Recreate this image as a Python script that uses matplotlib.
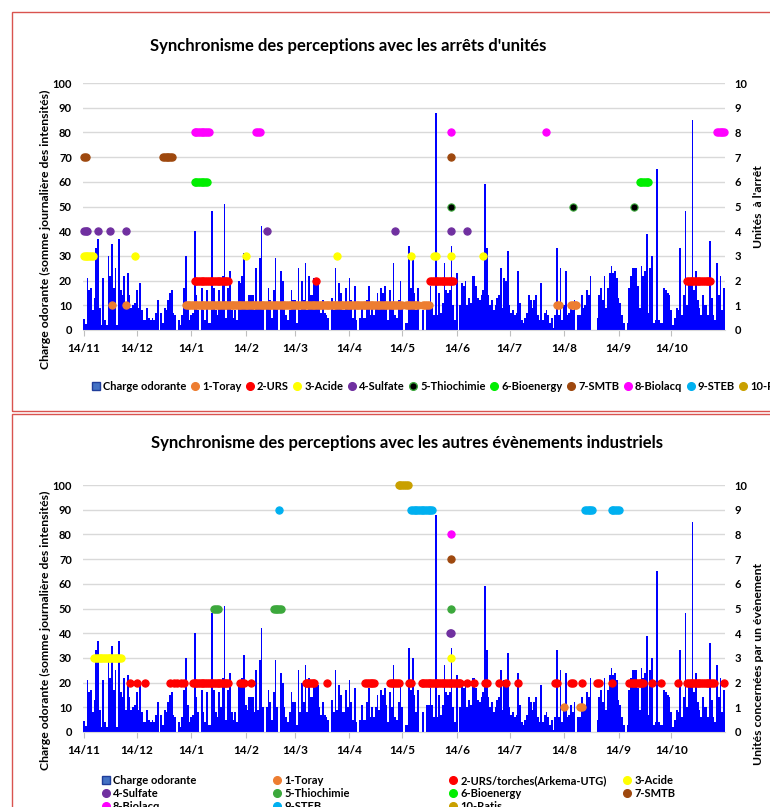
import numpy as np
import pandas as pd
import matplotlib
matplotlib.use('Agg')
import matplotlib.pyplot as plt
import matplotlib.dates as mdates
from matplotlib.lines import Line2D
from matplotlib.patches import Rectangle
from matplotlib.ticker import FuncFormatter, MultipleLocator

plt.rcParams['font.family'] = ['Lato', 'DejaVu Sans']
plt.rcParams['font.weight'] = 'bold'

# daily odour load, from 14/11 onwards
start = pd.Timestamp('2013-11-14')
charge = [
    4.5, 2.5, 21, 16, 17, 8, 13, 33, 37, 9,
    2, 21, 4, 2, 30, 22, 35, 17, 25, 2,
    37, 16, 14, 22, 9, 23, 14, 9, 10, 11,
    16, 9, 19, 8, 4, 4, 9, 5, 4, 5,
    4, 7, 12, 0, 7, 3, 9, 8, 12, 15,
    16, 7, 6, 0, 4, 2, 6, 17, 30, 11,
    4, 6, 7, 40, 14, 8, 0, 17, 8, 4,
    16, 3, 3, 48, 17, 8, 6, 16, 10, 22,
    51, 5, 17, 24, 8, 5, 8, 4, 20, 19,
    22, 31, 11, 9, 14, 14, 14, 8, 25, 9,
    29, 42, 10, 0, 10, 17, 12, 5, 16, 29,
    10, 0, 24, 20, 10, 6, 4, 8, 16, 12,
    12, 3, 25, 8, 20, 12, 27, 8, 22, 14,
    14, 21, 20, 19, 10, 7, 12, 7, 6, 5,
    0, 13, 8, 25, 9, 19, 15, 8, 8, 17,
    10, 21, 12, 5, 18, 4, 0, 5, 11, 5,
    5, 12, 18, 6, 10, 6, 10, 15, 9, 17,
    15, 18, 11, 4, 16, 10, 27, 6, 5, 12,
    20, 10, 0, 3, 3, 34, 17, 30, 15, 8,
    17, 0, 0, 8, 0, 11, 11, 18, 11, 6,
    88, 6, 15, 7, 11, 27, 16, 15, 16, 34,
    10, 4, 23, 0, 10, 19, 18, 20, 10, 13,
    11, 22, 22, 18, 13, 12, 14, 16, 59, 33,
    14, 10, 12, 8, 10, 13, 14, 25, 9, 21,
    20, 32, 10, 7, 8, 6, 7, 24, 11, 4,
    3, 5, 7, 14, 12, 9, 12, 14, 6, 4,
    19, 4, 7, 8, 6, 3, 5, 1, 6, 33,
    6, 25, 4, 10, 24, 6, 7, 11, 8, 12,
    0, 6, 6, 14, 9, 10, 16, 14, 22, 0,
    0, 0, 5, 14, 17, 12, 22, 9, 17, 23,
    26, 23, 24, 21, 13, 11, 6, 3, 0, 3,
    17, 22, 25, 25, 25, 18, 9, 26, 22, 24,
    39, 7, 25, 30, 3, 4, 65, 4, 3, 3,
    17, 16, 15, 14, 8, 2, 5, 9, 8, 33,
    6, 14, 48, 10, 20, 19, 85, 16, 24, 12,
    9, 6, 14, 10, 10, 6, 36, 13, 6, 4,
    27, 14, 22, 8, 17,
]

# event periods: (first day, last day) counted from 14/11
names_top = ['1-Toray', '2-URS', '3-Acide', '4-Sulfate', '5-Thiochimie',
             '6-Bioenergy', '7-SMTB', '8-Biolacq', '9-STEB', '10-Retia']
names_bot = ['1-Toray', '2-URS/torches(Arkema-UTG)', '3-Acide', '4-Sulfate',
             '5-Thiochimie', '6-Bioenergy', '7-SMTB', '8-Biolacq', '9-STEB', '10-Ratis']
colors = ['#ED7D31', '#FF0000', '#FFFF00', '#7030A0', '#000000',
          '#00EE00', '#9E480E', '#FF00FF', '#00B0F0', '#C9A000']

top_toray = [(16, 16), (24, 24), (58, 181), (183, 190), (193, 196), (269, 270), (277, 280)]
top_urs = [(63, 82), (132, 132), (197, 210), (343, 356)]
top_acide = [(0, 5), (29, 29), (92, 92), (144, 144), (186, 186), (199, 200), (209, 209), (227, 227)]
top_sulfate = [(0, 2), (8, 8), (15, 15), (24, 24), (104, 104), (177, 177), (209, 209), (218, 218)]
top_thio = [(209, 209), (278, 278), (313, 313)]
top_bio = [(63, 70), (316, 321)]
top_smtb = [(0, 1), (45, 50), (209, 209)]
top_biolacq = [(63, 71), (98, 100), (209, 209), (263, 263), (360, 364)]
top_steb = []
top_retia = []

bot_toray = [(273, 273), (282, 283)]
bot_urs = [(26, 26), (30, 30), (35, 35), (49, 49), (51, 51), (53, 53), (55, 55), (57, 57),
           (62, 82), (89, 91), (95, 95), (126, 131), (138, 138), (160, 165), (174, 179),
           (185, 186), (192, 214), (218, 218), (222, 222), (228, 229), (236, 236),
           (240, 240), (247, 247), (268, 269), (277, 278), (283, 283), (292, 293),
           (300, 300), (310, 318), (323, 323), (328, 328), (338, 338), (343, 358), (364, 364)]
bot_acide = [(6, 21), (209, 209)]
bot_sulfate = [(208, 209)]
bot_thio = [(74, 76), (108, 112), (209, 209)]
bot_bio = []
bot_smtb = [(209, 209)]
bot_biolacq = [(209, 209)]
bot_steb = [(111, 111), (186, 198), (285, 289), (300, 304)]
bot_ratis = [(179, 184)]

days = pd.date_range(start, periods=len(charge), freq='D')


def expand(periods):
    out = []
    for a, b in periods:
        out.extend(range(a, b + 1))
    return [start + pd.Timedelta(days=d) for d in out]


def draw_panel(ax, events, thio_face, thio_edge):
    ax.bar(days, charge, width=1.0, color='#0000FF', linewidth=0, zorder=2)
    ax.set_ylim(0, 100)
    ax.set_xlim(start - pd.Timedelta(days=0.5), start + pd.Timedelta(days=364.5))
    ax.yaxis.set_major_locator(MultipleLocator(10))
    ax.yaxis.grid(True, color='#D9D9D9', lw=1)
    ax.set_axisbelow(True)
    for s in ['left', 'right', 'top']:
        ax.spines[s].set_visible(False)
    ax.spines['bottom'].set_color('#D9D9D9')
    ax.tick_params(axis='y', length=0, labelsize=8, pad=8)
    ax.tick_params(axis='x', length=4, color='#BFBFBF', labelsize=8.5, pad=5)
    ax.xaxis.set_major_locator(mdates.DayLocator(bymonthday=14))
    ax.xaxis.set_major_formatter(FuncFormatter(
        lambda v, p: f"{mdates.num2date(v).day}/{mdates.num2date(v).month}"))

    ax2 = ax.twinx()
    ax2.set_ylim(0, 10)
    ax2.yaxis.set_major_locator(MultipleLocator(1))
    for s in ['left', 'right', 'top', 'bottom']:
        ax2.spines[s].set_visible(False)
    ax2.tick_params(axis='y', length=0, labelsize=8, pad=7)
    for i, periods in enumerate(events):
        if not periods:
            continue
        x = expand(periods)
        fc, ec = colors[i], colors[i]
        if i == 4:
            fc, ec = thio_face, thio_edge
        ax2.plot(x, [i + 1] * len(x), 'o', ls='none', ms=5.2, mfc=fc, mec=ec,
                 mew=0.8, clip_on=False, zorder=3)
    return ax2


fig = plt.figure(figsize=(7.7, 8.07), dpi=100)
ax_top = fig.add_axes([83 / 770, 1 - 330 / 807, 642 / 770, 247 / 807])
ax_bot = fig.add_axes([83 / 770, 1 - 732 / 807, 642 / 770, 247 / 807])

draw_panel(ax_top, [top_toray, top_urs, top_acide, top_sulfate, top_thio, top_bio, top_smtb,
                    top_biolacq, top_steb, top_retia], '#000000', '#3CA83C')
draw_panel(ax_bot, [bot_toray, bot_urs, bot_acide, bot_sulfate, bot_thio, bot_bio, bot_smtb,
                    bot_biolacq, bot_steb, bot_ratis], '#3CA83C', '#3CA83C')

fig.text(348 / 770, 1 - 46 / 807, "Synchronisme des perceptions avec les arrêts d'unités",
         ha='center', va='center', fontsize=12)
fig.text(407 / 770, 1 - 443 / 807, "Synchronisme des perceptions avec les autres évènements industriels",
         ha='center', va='center', fontsize=12)

ylab = "Charge odorante (somme journalière des intensités)"
fig.text(45 / 770, 1 - 229 / 807, ylab, rotation=90, ha='center', va='center', fontsize=8.8)
fig.text(45 / 770, 1 - 630 / 807, ylab, rotation=90, ha='center', va='center', fontsize=8.8)
fig.text(759 / 770, 1 - 207 / 807, "Unités  à l'arrêt", rotation=90, ha='center',
         va='center', fontsize=8.8)
fig.text(759 / 770, 1 - 664 / 807, "Unités concernées par un évènement", rotation=90,
         ha='center', va='center', fontsize=8.8)


def handle(i, face=None, edge=None):
    c = colors[i]
    return Line2D([], [], marker='o', ls='none', ms=5.5, mfc=face or c, mec=edge or c)


charge_h = Line2D([], [], marker='s', ls='none', ms=6, mfc='#4472C4', mec='#1F3D9A')

top_handles = [charge_h] + [handle(i) for i in range(10)]
top_handles[5] = handle(4, '#000000', '#3CA83C')
fig.legend(top_handles, ['Charge odorante'] + names_top, loc='upper left',
           bbox_to_anchor=(92 / 770, 1 - 381 / 807), ncol=11, frameon=False,
           fontsize=8, handlelength=0.7, handletextpad=0.3, columnspacing=0.4,
           borderaxespad=0, borderpad=0)

bot_handles = [charge_h] + [handle(i) for i in range(10)]
bot_handles[5] = handle(4, '#3CA83C', '#3CA83C')
bot_labels = ['Charge odorante'] + names_bot
col_x = [106, 277, 453, 627]
for c in range(4):
    idx = [k for k in range(c, 11, 4)]
    fig.legend([bot_handles[k] for k in idx], [bot_labels[k] for k in idx], loc='upper left',
               bbox_to_anchor=((col_x[c] - 4) / 770, 1 - 775 / 807), ncol=1, frameon=False,
               fontsize=8, handlelength=0.7, handletextpad=0.3, labelspacing=0.17,
               borderaxespad=0, borderpad=0)

fig.add_artist(Rectangle((12 / 770, 1 - 411 / 807), 1.0, 399 / 807, transform=fig.transFigure,
                         fill=False, ec='#D9534F', lw=1))
fig.add_artist(Rectangle((12 / 770, -0.1), 1.0, 0.1 + 1 - 414 / 807, transform=fig.transFigure,
                         fill=False, ec='#D9534F', lw=1))

fig.savefig('out.png', dpi=100)
